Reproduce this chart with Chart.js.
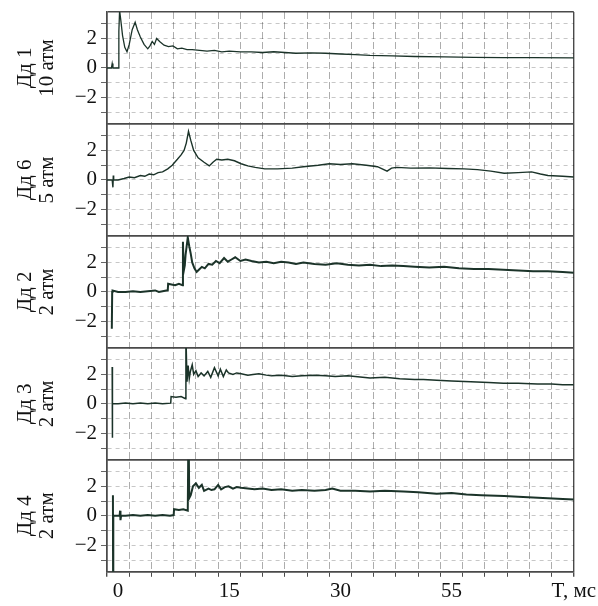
<!DOCTYPE html>
<html><head><meta charset="utf-8">
<script src="https://cdn.jsdelivr.net/npm/chart.js@4/dist/chart.umd.min.js"></script>
<style>html,body{margin:0;padding:0;background:#fff;}#wrap{width:598px;height:606px;}</style>
</head><body><div id="wrap"><canvas id="c" width="598" height="606"></canvas></div>
<script>
// ---- data ----
const panelNames = [['Дд 1','10 атм'],['Дд 6','5 атм'],['Дд 2','2 атм'],['Дд 3','2 атм'],['Дд 4','2 атм']];
const yTickValues = [-2, 0, 2];
const yTickLabels = ['−2', '0', '2'];
const xTickValues = [0, 15, 30, 45];
const xTickLabels = ['0', '15', '30', '55'];
const xEndLabel = 'T, мс';

// Дд 1
const t1 = [-1.5,-0.9,-0.8,-0.7,0.05,0.1,0.2,0.35,0.6,0.9,1.2,1.5,1.9,2.3,2.6,3.0,3.5,4.0,4.3,4.6,4.9,5.2,5.6,6.2,6.8,7.4,8.0,8.6,9.3,10.0,11.0,12.0,13.0,14.0,15.0,16.5,18.0,19.5,21.0,22.5,24.0,26.0,28.0,30.0,32.0,34.0,37.0,40.0,44.0,48.0,52.0,56.0,61.5];
const v1 = [0,0,0.3,0,0,2.5,3.9,3.3,2.2,1.4,1.1,1.6,2.6,3.1,2.6,2.1,1.6,1.3,1.5,1.8,1.6,2.0,1.8,1.55,1.45,1.5,1.3,1.35,1.25,1.25,1.2,1.15,1.2,1.1,1.15,1.1,1.1,1.05,1.1,1.05,1.0,1.02,1.0,0.95,0.9,0.85,0.82,0.78,0.75,0.72,0.7,0.7,0.68];
// Дд 6
const t2 = [-1.5,-0.8,-0.7,-0.65,-0.6,0,0.8,1.5,2.2,3.0,3.6,4.2,4.8,5.4,6.0,6.7,7.3,8.0,8.5,8.9,9.2,9.5,9.8,10.2,10.8,11.6,12.3,12.8,13.3,14.0,14.8,15.7,16.6,17.5,18.5,19.8,21.5,23.5,25.0,27.0,28.5,30.0,31.6,33.5,35.0,36.3,36.9,37.6,39.5,42.0,44.5,46.7,48.5,50.3,52.1,54.0,55.8,57.0,58.0,60.0,61.5];
const v2 = [0,0,-0.5,0.3,0,0,0.1,0.2,0.15,0.3,0.25,0.4,0.35,0.5,0.55,0.75,1.0,1.4,1.7,2.0,2.5,3.3,2.7,2.0,1.5,1.2,0.95,1.2,1.4,1.35,1.4,1.3,1.1,0.95,0.85,0.75,0.75,0.8,0.9,1.0,1.1,1.05,1.1,1.0,0.9,0.6,0.8,0.85,0.8,0.82,0.78,0.75,0.7,0.6,0.45,0.5,0.55,0.4,0.3,0.25,0.2];
// Дд 2
const t3 = [-0.85,-0.8,-0.75,0,1,2,3,4,5,5.5,6.0,6.5,6.7,6.75,7.2,7.7,8.2,8.7,8.75,8.85,9.0,9.1,9.4,9.6,9.8,10.0,10.3,10.6,10.9,11.3,11.7,12.2,12.7,13.2,13.7,14.3,14.8,15.3,15.8,16.5,17.2,18.0,19.0,20.0,21.0,22.0,23.0,24.0,25.0,26.5,28.0,29.5,31.0,32.5,34.0,35.5,37.0,38.5,40.0,42.0,44.0,46.0,48.0,50.0,52.0,54.0,56.0,58.0,60.0,61.5];
const v3 = [-2.5,0,0.1,0,0,0.05,0,0.05,0.1,0,0.05,0.1,0.1,0.55,0.5,0.45,0.55,0.45,3.4,1.4,1.8,2.5,3.7,3.1,2.6,2.0,1.6,1.35,1.5,1.7,1.6,1.9,1.85,2.1,1.95,2.3,2.05,2.2,2.35,2.1,2.2,2.1,2.0,2.05,1.95,2.05,2.0,1.9,2.0,1.9,1.85,1.95,1.85,1.8,1.85,1.75,1.8,1.75,1.7,1.65,1.7,1.6,1.55,1.55,1.5,1.45,1.4,1.4,1.35,1.3];
// Дд 3
const t4 = [-0.8,-0.78,-0.75,0,1,2,3,4,5,6,7.1,7.15,7.8,8.5,9.1,9.15,9.3,9.45,9.6,9.75,10.0,10.2,10.5,10.8,11.2,11.6,12.1,12.5,13.0,13.5,13.8,14.2,14.6,14.9,15.5,16.0,16.6,17.5,18.2,19.0,20.0,20.7,22.0,23.5,24.8,26.5,28.0,29.3,31.0,33.0,34.0,36.0,38.0,40.0,41.2,43.0,45.0,47.6,50.0,52.0,54.0,56.6,58.5,60.0,61.5];
const v4 = [2.5,-2.3,0,0,0.05,0,0.05,0,0.05,0,0.05,0.5,0.45,0.5,0.35,4.6,1.5,2.6,1.7,2.2,2.65,2.0,2.25,1.85,2.1,1.9,2.2,1.8,2.45,1.9,2.35,1.85,2.3,2.1,2.0,2.1,2.05,1.95,2.0,2.05,1.95,1.9,1.95,1.85,1.9,1.95,1.9,1.85,1.9,1.8,1.75,1.8,1.7,1.65,1.65,1.6,1.55,1.5,1.45,1.4,1.4,1.35,1.35,1.3,1.3];
// Дд 4
const t5 = [-0.7,-0.68,-0.65,0,0.2,0.27,0.32,0.4,1,2,3,4,5,6,7.0,7.5,7.55,8.2,8.8,9.4,9.5,9.6,9.8,10.1,10.5,10.9,11.3,11.6,12.2,12.6,13.0,13.5,13.9,14.4,14.9,15.5,16.0,16.6,17.5,18.4,19.5,20.7,22.0,23.5,24.8,26.5,28.0,28.9,30.0,32.0,34.0,36.0,38.5,40.5,43.0,45.0,47.0,49.0,52.1,54.0,56.0,58.0,60.0,61.5];
const v5 = [1.4,-3.8,0,0,0,0.35,-0.3,0,0,0.05,0,0.05,0,0.05,0,0.05,0.45,0.4,0.45,0.35,6.5,1.2,1.4,2.0,2.2,1.9,2.1,1.7,1.85,1.75,1.8,2.1,1.8,1.95,2.0,1.85,1.95,1.9,1.85,1.8,1.85,1.75,1.8,1.7,1.75,1.7,1.75,1.85,1.7,1.7,1.65,1.7,1.65,1.6,1.5,1.55,1.45,1.4,1.35,1.3,1.25,1.2,1.15,1.1];

const seriesT = [t1, t2, t3, t4, t5];
const seriesV = [v1, v2, v3, v4, v5];
const lineWidths = [1.3, 1.4, 2.0, 1.5, 2.0];

// ---- chart ----
const X_MIN = -1.5, X_MAX = 61.5, X_GRID = 1.5;
const Y_MIN = -3.8, Y_MAX = 3.8;
const FAMILY = '"Liberation Serif", "Times New Roman", serif';
const FONT = {family: FAMILY, size: 21, lineHeight: 1.2};
const TINY = {family: FAMILY, size: 1, lineHeight: 1};
const INK = '#111';
const TRACE = '#1b3329';
const FRAME = '#4a4a4a';

const datasets = seriesT.map((t, i) => ({
  data: t.map((x, j) => ({x: x, y: seriesV[i][j]})),
  yAxisID: 'y' + i,
  borderColor: TRACE,
  borderWidth: lineWidths[i],
  pointRadius: 0,
  tension: 0,
  fill: false
}));

const isXFrame = (c) => c.index === 0 || (c.tick && c.tick.value === X_MAX);
const isYFrame = (c) => { const v = c.tick ? c.tick.value : 0; return v === Y_MIN || v === Y_MAX; };

const scales = {
  x: {
    type: 'linear',
    min: X_MIN, max: X_MAX,
    afterBuildTicks: (s) => {
      const n = Math.round((X_MAX - X_MIN) / X_GRID);
      s.ticks = [];
      for (let k = 0; k <= n; k++) s.ticks.push({value: X_MIN + X_GRID * k});
    },
    ticks: {
      autoSkip: false, maxRotation: 0, minRotation: 0, padding: 2,
      color: INK, font: FONT,
      callback: (v) => {
        if (v === X_MAX) return xEndLabel;
        const i = xTickValues.indexOf(v);
        return i >= 0 ? xTickLabels[i] : '';
      }
    },
    grid: {
      drawOnChartArea: true, tickLength: 5,
      color: (c) => isXFrame(c) ? FRAME : (c.index % 2 === 0 ? 'rgba(0,0,0,0.32)' : 'rgba(0,0,0,0)'),
      tickColor: (c) => c.index % 2 === 0 ? FRAME : 'rgba(0,0,0,0)',
      lineWidth: (c) => isXFrame(c) ? 1.4 : 1
    },
    border: {
      display: true, color: FRAME, width: 1.6,
      dash: (c) => isXFrame(c) ? [] : [7, 3]
    }
  }
};

panelNames.forEach((name, i) => {
  scales['y' + i] = {
    type: 'linear',
    position: 'left',
    stack: 'panels',
    stackWeight: 1,
    weight: 10 - i,
    min: Y_MIN, max: Y_MAX,
    afterBuildTicks: (s) => {
      s.ticks = [Y_MIN, -3, -2, -1, 0, 1, 2, 3, Y_MAX].map(v => ({value: v}));
    },
    afterFit: (s) => { s.width = 107; },
    ticks: {
      autoSkip: false, padding: 4, color: INK,
      font: (c) => isYFrame(c) ? TINY : FONT,
      callback: (v) => {
        const j = yTickValues.indexOf(v);
        return j >= 0 ? yTickLabels[j] : '';
      }
    },
    grid: {
      drawOnChartArea: true, tickLength: 6,
      color: (c) => isYFrame(c) ? FRAME : 'rgba(0,0,0,0.22)',
      lineWidth: (c) => isYFrame(c) ? 1.4 : 1,
      tickColor: (c) => isYFrame(c) ? 'rgba(0,0,0,0)' : '#666'
    },
    border: {
      display: true, color: FRAME, width: 1.6,
      dash: (c) => isYFrame(c) ? [] : [4, 4]
    },
    title: {
      display: true,
      text: name,
      color: INK,
      font: {family: FAMILY, size: 21, lineHeight: 1.05},
      padding: {top: 14, bottom: 0}
    }
  };
});

new Chart(document.getElementById('c'), {
  type: 'line',
  data: {datasets: datasets},
  options: {
    responsive: false,
    animation: false,
    devicePixelRatio: 1,
    layout: {padding: {top: 12, bottom: 0, left: 0, right: 0}},
    plugins: {legend: {display: false}, tooltip: {enabled: false}},
    scales: scales
  }
});
</script>
</body></html>
